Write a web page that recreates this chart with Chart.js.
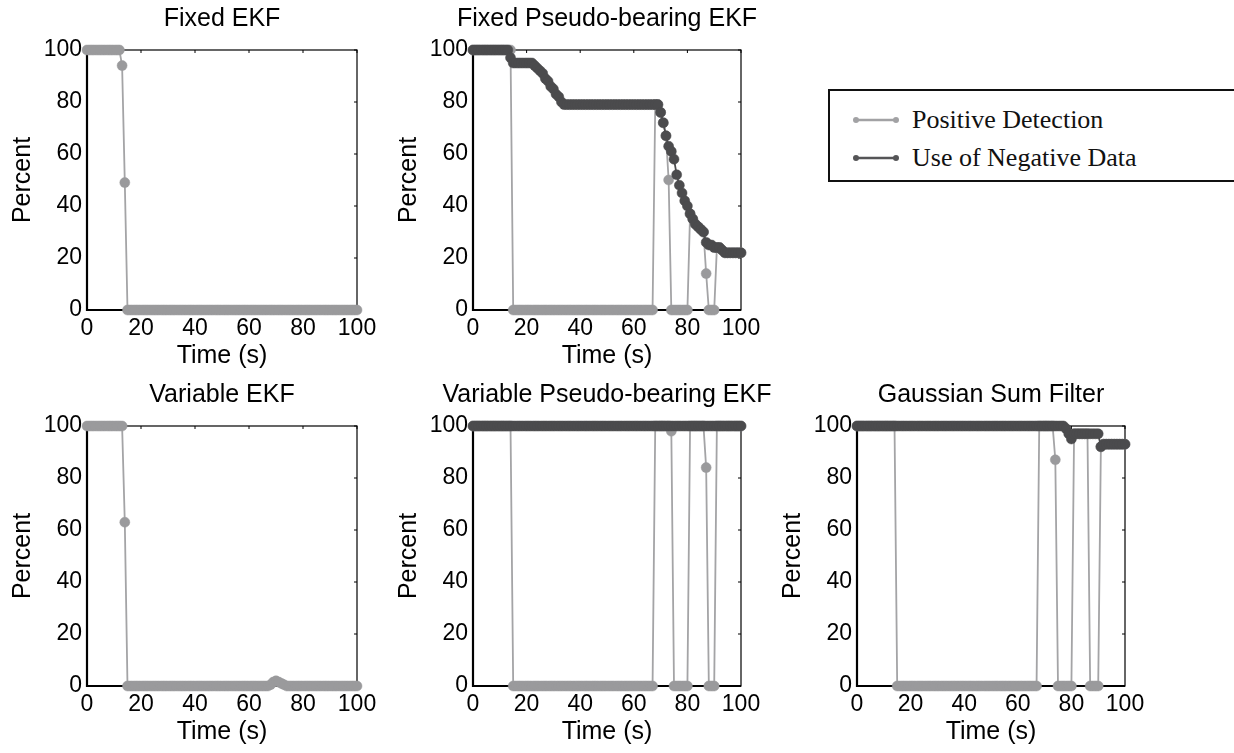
<!DOCTYPE html>
<html>
<head>
<meta charset="utf-8">
<title>Detection percent</title>
<script src="https://cdn.jsdelivr.net/npm/chart.js@4.4.1/dist/chart.umd.min.js"></script>
<style>
  html, body { margin: 0; padding: 0; background: #fff; }
  body { width: 1234px; height: 753px; position: relative; overflow: hidden; }
  canvas { position: absolute; }
  #legend {
    position: absolute; left: 828px; top: 89px; width: 440px; height: 89px;
    border: 2px solid #111; background: #fff;
    font-family: "Liberation Serif", "Times New Roman", serif; font-size: 26px; color: #111;
  }
  #legend .item { position: absolute; left: 23px; height: 30px; }
  #legend svg { position: absolute; left: 0; top: 10px; }
  #legend span { position: absolute; left: 59px; top: 0; line-height: 30px; white-space: nowrap; }
</style>
</head>
<body>
<canvas id="c1" width="444" height="374" style="left:0;top:0"></canvas>
<canvas id="c2" width="442" height="374" style="left:386px;top:0"></canvas>
<canvas id="c4" width="444" height="374" style="left:0;top:376px"></canvas>
<canvas id="c5" width="442" height="374" style="left:386px;top:376px"></canvas>
<canvas id="c6" width="442" height="374" style="left:770px;top:376px"></canvas>

<div id="legend">
  <div class="item" style="top:14px">
    <svg width="46" height="10"><line x1="3" y1="5" x2="43" y2="5" stroke="#a2a2a4" stroke-width="2.5"/><circle cx="3" cy="5" r="3" fill="#a2a2a4"/><circle cx="43" cy="5" r="3" fill="#a2a2a4"/></svg>
    <span>Positive Detection</span>
  </div>
  <div class="item" style="top:52px">
    <svg width="46" height="10"><line x1="3" y1="5" x2="43" y2="5" stroke="#555557" stroke-width="2.5"/><circle cx="3" cy="5" r="3" fill="#555557"/><circle cx="43" cy="5" r="3" fill="#555557"/></svg>
    <span>Use of Negative Data</span>
  </div>
</div>

<script>
// sample times (s)
const times = [
  0, 1, 2, 3, 4, 5, 6, 7, 8, 9,
  10, 11, 12, 13, 14, 15, 16, 17, 18, 19,
  20, 21, 22, 23, 24, 25, 26, 27, 28, 29,
  30, 31, 32, 33, 34, 35, 36, 37, 38, 39,
  40, 41, 42, 43, 44, 45, 46, 47, 48, 49,
  50, 51, 52, 53, 54, 55, 56, 57, 58, 59,
  60, 61, 62, 63, 64, 65, 66, 67, 68, 69,
  70, 71, 72, 73, 74, 75, 76, 77, 78, 79,
  80, 81, 82, 83, 84, 85, 86, 87, 88, 89,
  90, 91, 92, 93, 94, 95, 96, 97, 98, 99,
  100
];

const xTicks = [0, 20, 40, 60, 80, 100];
const yTicks = [0, 20, 40, 60, 80, 100];

const titles = ['Fixed EKF', 'Fixed Pseudo-bearing EKF', 'Variable EKF',
  'Variable Pseudo-bearing EKF', 'Gaussian Sum Filter'];
const seriesNames = ['Positive Detection', 'Use of Negative Data'];

// Fixed EKF
const fixedEkfPos = [
  100, 100, 100, 100, 100, 100, 100, 100, 100, 100,
  100, 100, 100, 94, 49, 0, 0, 0, 0, 0,
  0, 0, 0, 0, 0, 0, 0, 0, 0, 0,
  0, 0, 0, 0, 0, 0, 0, 0, 0, 0,
  0, 0, 0, 0, 0, 0, 0, 0, 0, 0,
  0, 0, 0, 0, 0, 0, 0, 0, 0, 0,
  0, 0, 0, 0, 0, 0, 0, 0, 0, 0,
  0, 0, 0, 0, 0, 0, 0, 0, 0, 0,
  0, 0, 0, 0, 0, 0, 0, 0, 0, 0,
  0, 0, 0, 0, 0, 0, 0, 0, 0, 0,
  0
];

// Fixed Pseudo-bearing EKF
const fixedPbPos = [
  100, 100, 100, 100, 100, 100, 100, 100, 100, 100,
  100, 100, 100, 100, 100, 0, 0, 0, 0, 0,
  0, 0, 0, 0, 0, 0, 0, 0, 0, 0,
  0, 0, 0, 0, 0, 0, 0, 0, 0, 0,
  0, 0, 0, 0, 0, 0, 0, 0, 0, 0,
  0, 0, 0, 0, 0, 0, 0, 0, 0, 0,
  0, 0, 0, 0, 0, 0, 0, 0, 79, 79,
  76, 72, 67, 50, 0, 0, 0, 0, 0, 0,
  0, 37, 35, 33, 32, 31, 30, 14, 0, 0,
  0, 24, 24, 23, 22, 22, 22, 22, 22, 22,
  22
];
const fixedPbNeg = [
  100, 100, 100, 100, 100, 100, 100, 100, 100, 100,
  100, 100, 100, 100, 97, 95, 95, 95, 95, 95,
  95, 95, 95, 94, 93, 92, 91, 89, 88, 86,
  85, 83, 82, 80, 79, 79, 79, 79, 79, 79,
  79, 79, 79, 79, 79, 79, 79, 79, 79, 79,
  79, 79, 79, 79, 79, 79, 79, 79, 79, 79,
  79, 79, 79, 79, 79, 79, 79, 79, 79, 79,
  76, 72, 67, 63, 61, 58, 52, 48, 45, 42,
  40, 37, 35, 33, 32, 31, 30, 26, 25, 25,
  24, 24, 24, 23, 22, 22, 22, 22, 22, 22,
  22
];

// Variable EKF
const varEkfPos = [
  100, 100, 100, 100, 100, 100, 100, 100, 100, 100,
  100, 100, 100, 100, 63, 0, 0, 0, 0, 0,
  0, 0, 0, 0, 0, 0, 0, 0, 0, 0,
  0, 0, 0, 0, 0, 0, 0, 0, 0, 0,
  0, 0, 0, 0, 0, 0, 0, 0, 0, 0,
  0, 0, 0, 0, 0, 0, 0, 0, 0, 0,
  0, 0, 0, 0, 0, 0, 0, 0, 0.5, 1.5,
  2, 1.5, 1, 0.5, 0, 0, 0, 0, 0, 0,
  0, 0, 0, 0, 0, 0, 0, 0, 0, 0,
  0, 0, 0, 0, 0, 0, 0, 0, 0, 0,
  0
];

// Variable Pseudo-bearing EKF
const varPbPos = [
  100, 100, 100, 100, 100, 100, 100, 100, 100, 100,
  100, 100, 100, 100, 100, 0, 0, 0, 0, 0,
  0, 0, 0, 0, 0, 0, 0, 0, 0, 0,
  0, 0, 0, 0, 0, 0, 0, 0, 0, 0,
  0, 0, 0, 0, 0, 0, 0, 0, 0, 0,
  0, 0, 0, 0, 0, 0, 0, 0, 0, 0,
  0, 0, 0, 0, 0, 0, 0, 0, 100, 100,
  100, 100, 100, 100, 98, 0, 0, 0, 0, 0,
  0, 100, 100, 100, 100, 100, 100, 84, 0, 0,
  0, 100, 100, 100, 100, 100, 100, 100, 100, 100,
  100
];
const varPbNeg = [
  100, 100, 100, 100, 100, 100, 100, 100, 100, 100,
  100, 100, 100, 100, 100, 100, 100, 100, 100, 100,
  100, 100, 100, 100, 100, 100, 100, 100, 100, 100,
  100, 100, 100, 100, 100, 100, 100, 100, 100, 100,
  100, 100, 100, 100, 100, 100, 100, 100, 100, 100,
  100, 100, 100, 100, 100, 100, 100, 100, 100, 100,
  100, 100, 100, 100, 100, 100, 100, 100, 100, 100,
  100, 100, 100, 100, 100, 100, 100, 100, 100, 100,
  100, 100, 100, 100, 100, 100, 100, 100, 100, 100,
  100, 100, 100, 100, 100, 100, 100, 100, 100, 100,
  100
];

// Gaussian Sum Filter
const gsfPos = [
  100, 100, 100, 100, 100, 100, 100, 100, 100, 100,
  100, 100, 100, 100, 100, 0, 0, 0, 0, 0,
  0, 0, 0, 0, 0, 0, 0, 0, 0, 0,
  0, 0, 0, 0, 0, 0, 0, 0, 0, 0,
  0, 0, 0, 0, 0, 0, 0, 0, 0, 0,
  0, 0, 0, 0, 0, 0, 0, 0, 0, 0,
  0, 0, 0, 0, 0, 0, 0, 0, 100, 100,
  100, 100, 100, 100, 87, 0, 0, 0, 0, 0,
  0, 97, 97, 97, 97, 97, 97, 0, 0, 0,
  0, 92, 93, 93, 93, 93, 93, 93, 93, 93,
  93
];
const gsfNeg = [
  100, 100, 100, 100, 100, 100, 100, 100, 100, 100,
  100, 100, 100, 100, 100, 100, 100, 100, 100, 100,
  100, 100, 100, 100, 100, 100, 100, 100, 100, 100,
  100, 100, 100, 100, 100, 100, 100, 100, 100, 100,
  100, 100, 100, 100, 100, 100, 100, 100, 100, 100,
  100, 100, 100, 100, 100, 100, 100, 100, 100, 100,
  100, 100, 100, 100, 100, 100, 100, 100, 100, 100,
  100, 100, 100, 100, 100, 100, 100, 100, 99, 97,
  95, 97, 97, 97, 97, 97, 97, 97, 97, 97,
  97, 92, 93, 93, 93, 93, 93, 93, 93, 93,
  93
];

const GREY = '#9a9a9c';
const GREY_LINE = '#a4a4a6';
const DARK = '#4b4b4d';
const SANS = '"Liberation Sans", Arial, Helvetica, sans-serif';

// box round the plot with small inward ticks on top and right
const framePlugin = {
  id: 'frame',
  beforeDatasetsDraw(chart) {
    const { ctx, chartArea: a } = chart;
    const x = chart.scales.x, y = chart.scales.y;
    ctx.save();
    ctx.strokeStyle = '#000';
    ctx.lineWidth = 1.2;
    ctx.strokeRect(a.left, a.top, a.right - a.left, a.bottom - a.top);
    ctx.lineWidth = 2.2;
    ctx.beginPath();
    ctx.moveTo(a.left, a.top);
    ctx.lineTo(a.left, a.bottom);
    ctx.lineTo(a.right, a.bottom);
    ctx.stroke();
    ctx.lineWidth = 1;
    ctx.beginPath();
    xTicks.forEach(v => {
      const px = x.getPixelForValue(v);
      ctx.moveTo(px, a.top);
      ctx.lineTo(px, a.top + 3);
    });
    yTicks.forEach(v => {
      const py = y.getPixelForValue(v);
      ctx.moveTo(a.right, py);
      ctx.lineTo(a.right - 3, py);
    });
    ctx.stroke();
    ctx.restore();
  }
};

function lineSet(label, data, color, lineColor, order) {
  return {
    label: label,
    data: data,
    borderColor: lineColor,
    backgroundColor: color,
    pointBackgroundColor: color,
    pointBorderColor: color,
    borderWidth: 1.8,
    pointRadius: 5,
    pointBorderWidth: 0.5,
    pointHoverRadius: 5,
    tension: 0,
    clip: false,
    order: order
  };
}

function makeChart(id, title, pos, neg) {
  const datasets = [lineSet(seriesNames[0], pos, GREY, GREY_LINE, 1)];
  if (neg) datasets.push(lineSet(seriesNames[1], neg, DARK, DARK, 0));

  new Chart(document.getElementById(id), {
    type: 'line',
    data: { labels: times, datasets: datasets },
    options: {
      responsive: false,
      animation: false,
      devicePixelRatio: 1,
      layout: { padding: 0 },
      plugins: {
        legend: { display: false },
        tooltip: { enabled: false },
        title: {
          display: true,
          text: title,
          color: '#000',
          font: { family: SANS, size: 25, weight: 'normal' },
          padding: { top: 4, bottom: 16 }
        }
      },
      scales: {
        x: {
          type: 'linear',
          min: 0,
          max: 100,
          afterFit: s => { s.height = 64; },
          afterBuildTicks: s => { s.ticks = xTicks.map(v => ({ value: v })); },
          grid: { display: false, drawTicks: false },
          border: { display: false },
          ticks: { color: '#000', padding: 5, maxRotation: 0, font: { family: SANS, size: 23 } },
          title: {
            display: true, text: 'Time (s)', color: '#000',
            font: { family: SANS, size: 25 }, padding: { top: 0, bottom: 3 }
          }
        },
        y: {
          min: 0,
          max: 100,
          afterFit: s => { s.width = 87; },
          afterBuildTicks: s => { s.ticks = yTicks.map(v => ({ value: v })); },
          grid: { display: false, drawTicks: false },
          border: { display: false },
          ticks: { color: '#000', padding: 5, font: { family: SANS, size: 23 } },
          title: {
            display: true, text: 'Percent', color: '#000',
            font: { family: SANS, size: 25 }, padding: { top: 8, bottom: 0 }
          }
        },
        // empty right-hand axis as wide as the left one, so the title centres on the plot
        yRight: {
          position: 'right',
          min: 0,
          max: 100,
          afterFit: s => { s.width = 87; },
          grid: { display: false, drawTicks: false },
          border: { display: false },
          ticks: { display: false }
        }
      }
    },
    plugins: [framePlugin]
  });
}

makeChart('c1', titles[0], fixedEkfPos, null);
makeChart('c2', titles[1], fixedPbPos, fixedPbNeg);
makeChart('c4', titles[2], varEkfPos, null);
makeChart('c5', titles[3], varPbPos, varPbNeg);
makeChart('c6', titles[4], gsfPos, gsfNeg);
</script>
</body>
</html>
